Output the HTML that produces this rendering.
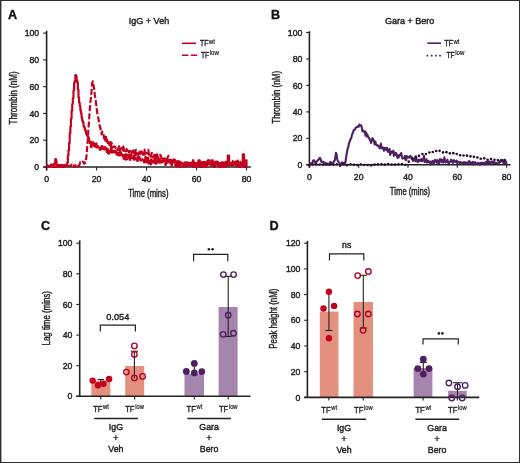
<!DOCTYPE html>
<html><head><meta charset="utf-8"><style>
html,body{margin:0;padding:0;background:#fff;}
body{width:520px;height:463px;overflow:hidden;position:relative;}
svg{position:absolute;left:0;top:0;display:block;will-change:transform;}
svg text{font-family:"Liberation Sans", sans-serif;stroke:#1e1e1e;stroke-width:0.4px;}
</style></head><body>
<svg width="520" height="463" viewBox="0 0 520 463">
<rect x="0" y="0" width="520" height="463" fill="#fff"/>
<line x1="46.6" y1="30.8" x2="46.6" y2="170.4" stroke="#222" stroke-width="1.6"/>
<line x1="43.2" y1="167.0" x2="250.8" y2="167.0" stroke="#222" stroke-width="1.6"/>
<line x1="43.2" y1="167.00" x2="46.6" y2="167.00" stroke="#222" stroke-width="1.1"/>
<text x="39.20" y="170.10" font-size="8.7" text-anchor="end" fill="#1e1e1e" font-weight="normal" >0</text>
<line x1="43.2" y1="140.22" x2="46.6" y2="140.22" stroke="#222" stroke-width="1.1"/>
<text x="39.20" y="143.32" font-size="8.7" text-anchor="end" fill="#1e1e1e" font-weight="normal" >20</text>
<line x1="43.2" y1="113.44" x2="46.6" y2="113.44" stroke="#222" stroke-width="1.1"/>
<text x="39.20" y="116.54" font-size="8.7" text-anchor="end" fill="#1e1e1e" font-weight="normal" >40</text>
<line x1="43.2" y1="86.66" x2="46.6" y2="86.66" stroke="#222" stroke-width="1.1"/>
<text x="39.20" y="89.76" font-size="8.7" text-anchor="end" fill="#1e1e1e" font-weight="normal" >60</text>
<line x1="43.2" y1="59.88" x2="46.6" y2="59.88" stroke="#222" stroke-width="1.1"/>
<text x="39.20" y="62.98" font-size="8.7" text-anchor="end" fill="#1e1e1e" font-weight="normal" >80</text>
<line x1="43.2" y1="33.10" x2="46.6" y2="33.10" stroke="#222" stroke-width="1.1"/>
<text x="39.20" y="36.20" font-size="8.7" text-anchor="end" fill="#1e1e1e" font-weight="normal" >100</text>
<line x1="46.60" y1="167.0" x2="46.60" y2="170.4" stroke="#222" stroke-width="1.1"/>
<text x="46.60" y="181.60" font-size="8.7" text-anchor="middle" fill="#1e1e1e" font-weight="normal" >0</text>
<line x1="96.58" y1="167.0" x2="96.58" y2="170.4" stroke="#222" stroke-width="1.1"/>
<text x="96.58" y="181.60" font-size="8.7" text-anchor="middle" fill="#1e1e1e" font-weight="normal" >20</text>
<line x1="146.56" y1="167.0" x2="146.56" y2="170.4" stroke="#222" stroke-width="1.1"/>
<text x="146.56" y="181.60" font-size="8.7" text-anchor="middle" fill="#1e1e1e" font-weight="normal" >40</text>
<line x1="196.54" y1="167.0" x2="196.54" y2="170.4" stroke="#222" stroke-width="1.1"/>
<text x="196.54" y="181.60" font-size="8.7" text-anchor="middle" fill="#1e1e1e" font-weight="normal" >60</text>
<line x1="246.52" y1="167.0" x2="246.52" y2="170.4" stroke="#222" stroke-width="1.1"/>
<text x="246.52" y="181.60" font-size="8.7" text-anchor="middle" fill="#1e1e1e" font-weight="normal" >80</text>
<text transform="translate(148.3,196.9) scale(0.77,1)" font-size="10" text-anchor="middle" fill="#1e1e1e">Time (mins)</text>
<text transform="translate(16.5,97.9) rotate(-90) scale(0.81,1)" font-size="10" text-anchor="middle" fill="#1e1e1e">Thrombin (nM)</text>
<text x="149.00" y="23.80" font-size="9.0" text-anchor="middle" fill="#1e1e1e" font-weight="normal" >IgG + Veh</text>
<text x="8" y="18.7" font-size="12.6" font-weight="bold" fill="#111">A</text>
<line x1="182" y1="43.3" x2="196" y2="43.3" stroke="#c4001f" stroke-width="1.6"/>
<line x1="182" y1="55.2" x2="197.2" y2="55.2" stroke="#c4001f" stroke-width="1.6" stroke-dasharray="6.4,2.4"/>
<text transform="translate(200.0,46.1) scale(0.77,1)" font-size="8.9" fill="#1e1e1e">TF<tspan font-size="7.9" dx="0.6" dy="-2.6" style="stroke-width:0.25px">wt</tspan></text>
<text transform="translate(200.9,57.6) scale(0.77,1)" font-size="8.9" fill="#1e1e1e">TF<tspan font-size="7.9" dx="0.6" dy="-2.6" style="stroke-width:0.25px">low</tspan></text>
<path d="M46.60,165.93 L47.22,165.93 L47.22,165.66 L47.85,165.66 L47.85,166.08 L48.47,166.08 L48.47,166.54 L49.10,166.54 L49.10,166.16 L49.72,166.16 L49.72,166.56 L50.35,166.56 L50.35,165.68 L50.97,165.68 L50.97,164.62 L51.60,164.62 L51.60,166.06 L52.22,166.06 L52.22,165.82 L52.85,165.82 L52.85,164.60 L53.47,164.60 L53.47,164.37 L54.10,164.37 L54.10,164.24 L54.72,164.24 L54.72,162.39 L55.35,162.39 L55.35,158.99 L55.97,158.99 L55.97,161.42 L56.60,161.42 L56.60,166.07 L57.22,166.07 L57.22,165.41 L57.85,165.41 L57.85,166.62 L58.47,166.62 L58.47,166.18 L59.09,166.18 L59.09,166.67 L59.72,166.67 L59.72,165.43 L60.34,165.43 L60.34,166.31 L60.97,166.31 L60.97,165.13 L61.59,165.13 L61.59,165.27 L62.22,165.27 L62.22,165.49 L62.84,165.49 L62.84,167.00 L63.47,167.00 L63.47,165.66 L64.09,165.66 L64.09,165.21 L64.72,165.21 L64.72,165.02 L65.34,165.02 L65.34,166.29 L65.97,166.29 L65.97,165.39 L66.59,165.39 L66.59,164.44 L67.22,164.44 L67.22,162.63 L67.84,162.63 L67.84,155.44 L68.47,155.44 L68.47,150.24 L69.09,150.24 L69.09,142.92 L69.72,142.92 L69.72,133.26 L70.34,133.26 L70.34,126.53 L70.97,126.53 L70.97,118.50 L71.59,118.50 L71.59,110.67 L72.21,110.67 L72.21,104.02 L72.84,104.02 L72.84,98.36 L73.46,98.36 L73.46,90.62 L74.09,90.62 L74.09,82.89 L74.71,82.89 L74.71,81.10 L75.34,81.10 L75.34,75.03 L75.96,75.03 L75.96,76.12 L76.59,76.12 L76.59,80.30 L77.21,80.30 L77.21,82.29 L77.84,82.29 L77.84,89.56 L78.46,89.56 L78.46,97.41 L79.09,97.41 L79.09,102.67 L79.71,102.67 L79.71,106.00 L80.34,106.00 L80.34,110.35 L80.96,110.35 L80.96,113.38 L81.59,113.38 L81.59,117.72 L82.21,117.72 L82.21,120.86 L82.84,120.86 L82.84,122.44 L83.46,122.44 L83.46,125.95 L84.09,125.95 L84.09,127.06 L84.71,127.06 L84.71,129.41 L85.33,129.41 L85.33,130.74 L85.96,130.74 L85.96,133.47 L86.58,133.47 L86.58,134.66 L87.21,134.66 L87.21,136.03 L87.83,136.03 L87.83,136.82 L88.46,136.82 L88.46,137.96 L89.08,137.96 L89.08,141.28 L89.71,141.28 L89.71,143.05 L90.33,143.05 L90.33,141.69 L90.96,141.69 L90.96,147.08 L91.58,147.08 L91.58,144.66 L92.21,144.66 L92.21,144.42 L92.83,144.42 L92.83,142.33 L93.46,142.33 L93.46,143.84 L94.08,143.84 L94.08,146.19 L94.71,146.19 L94.71,146.52 L95.33,146.52 L95.33,146.55 L95.96,146.55 L95.96,143.47 L96.58,143.47 L96.58,147.38 L97.20,147.38 L97.20,147.40 L97.83,147.40 L97.83,146.42 L98.45,146.42 L98.45,147.56 L99.08,147.56 L99.08,147.95 L99.70,147.95 L99.70,149.83 L100.33,149.83 L100.33,147.92 L100.95,147.92 L100.95,148.89 L101.58,148.89 L101.58,146.03 L102.20,146.03 L102.20,147.16 L102.83,147.16 L102.83,148.58 L103.45,148.58 L103.45,147.44 L104.08,147.44 L104.08,149.49 L104.70,149.49 L104.70,147.04 L105.33,147.04 L105.33,149.18 L105.95,149.18 L105.95,148.24 L106.58,148.24 L106.58,151.91 L107.20,151.91 L107.20,149.00 L107.83,149.00 L107.83,152.98 L108.45,152.98 L108.45,153.79 L109.08,153.79 L109.08,150.70 L109.70,150.70 L109.70,152.03 L110.32,152.03 L110.32,150.26 L110.95,150.26 L110.95,146.57 L111.57,146.57 L111.57,152.56 L112.20,152.56 L112.20,152.39 L112.82,152.39 L112.82,151.05 L113.45,151.05 L113.45,150.73 L114.07,150.73 L114.07,152.20 L114.70,152.20 L114.70,152.47 L115.32,152.47 L115.32,150.99 L115.95,150.99 L115.95,151.55 L116.57,151.55 L116.57,154.68 L117.20,154.68 L117.20,153.11 L117.82,153.11 L117.82,153.11 L118.45,153.11 L118.45,155.37 L119.07,155.37 L119.07,153.12 L119.70,153.12 L119.70,155.42 L120.32,155.42 L120.32,152.18 L120.95,152.18 L120.95,153.84 L121.57,153.84 L121.57,154.23 L122.19,154.23 L122.19,155.71 L122.82,155.71 L122.82,155.02 L123.44,155.02 L123.44,158.74 L124.07,158.74 L124.07,157.31 L124.69,157.31 L124.69,154.71 L125.32,154.71 L125.32,159.58 L125.94,159.58 L125.94,154.20 L126.57,154.20 L126.57,159.26 L127.19,159.26 L127.19,154.76 L127.82,154.76 L127.82,157.96 L128.44,157.96 L128.44,155.12 L129.07,155.12 L129.07,156.53 L129.69,156.53 L129.69,159.85 L130.32,159.85 L130.32,154.80 L130.94,154.80 L130.94,154.56 L131.57,154.56 L131.57,157.51 L132.19,157.51 L132.19,158.02 L132.82,158.02 L132.82,157.93 L133.44,157.93 L133.44,159.57 L134.06,159.57 L134.06,155.81 L134.69,155.81 L134.69,159.01 L135.31,159.01 L135.31,158.21 L135.94,158.21 L135.94,159.72 L136.56,159.72 L136.56,159.53 L137.19,159.53 L137.19,160.87 L137.81,160.87 L137.81,156.24 L138.44,156.24 L138.44,159.01 L139.06,159.01 L139.06,157.03 L139.69,157.03 L139.69,158.94 L140.31,158.94 L140.31,160.38 L140.94,160.38 L140.94,159.82 L141.56,159.82 L141.56,160.37 L142.19,160.37 L142.19,159.43 L142.81,159.43 L142.81,160.27 L143.44,160.27 L143.44,160.25 L144.06,160.25 L144.06,162.39 L144.69,162.39 L144.69,161.44 L145.31,161.44 L145.31,156.95 L145.94,156.95 L145.94,161.43 L146.56,161.43 L146.56,162.27 L147.18,162.27 L147.18,159.78 L147.81,159.78 L147.81,157.90 L148.43,157.90 L148.43,163.38 L149.06,163.38 L149.06,161.17 L149.68,161.17 L149.68,162.09 L150.31,162.09 L150.31,164.30 L150.93,164.30 L150.93,159.67 L151.56,159.67 L151.56,161.14 L152.18,161.14 L152.18,161.02 L152.81,161.02 L152.81,162.61 L153.43,162.61 L153.43,160.40 L154.06,160.40 L154.06,162.32 L154.68,162.32 L154.68,161.63 L155.31,161.63 L155.31,163.49 L155.93,163.49 L155.93,163.75 L156.56,163.75 L156.56,160.31 L157.18,160.31 L157.18,160.31 L157.81,160.31 L157.81,161.08 L158.43,161.08 L158.43,161.74 L159.06,161.74 L159.06,162.55 L159.68,162.55 L159.68,162.73 L160.30,162.73 L160.30,160.65 L160.93,160.65 L160.93,162.45 L161.55,162.45 L161.55,162.22 L162.18,162.22 L162.18,161.95 L162.80,161.95 L162.80,159.84 L163.43,159.84 L163.43,160.82 L164.05,160.82 L164.05,160.97 L164.68,160.97 L164.68,160.97 L165.30,160.97 L165.30,164.84 L165.93,164.84 L165.93,160.52 L166.55,160.52 L166.55,160.54 L167.18,160.54 L167.18,162.67 L167.80,162.67 L167.80,161.44 L168.43,161.44 L168.43,161.05 L169.05,161.05 L169.05,161.01 L169.68,161.01 L169.68,160.89 L170.30,160.89 L170.30,163.52 L170.93,163.52 L170.93,159.88 L171.55,159.88 L171.55,165.11 L172.17,165.11 L172.17,161.21 L172.80,161.21 L172.80,161.95 L173.42,161.95 L173.42,161.29 L174.05,161.29 L174.05,159.46 L174.67,159.46 L174.67,160.24 L175.30,160.24 L175.30,165.20 L175.92,165.20 L175.92,166.26 L176.55,166.26 L176.55,161.60 L177.17,161.60 L177.17,165.07 L177.80,165.07 L177.80,161.64 L178.42,161.64 L178.42,161.64 L179.05,161.64 L179.05,166.36 L179.67,166.36 L179.67,167.00 L180.30,167.00 L180.30,162.87 L180.92,162.87 L180.92,163.31 L181.55,163.31 L181.55,163.89 L182.17,163.89 L182.17,163.39 L182.80,163.39 L182.80,165.12 L183.42,165.12 L183.42,166.38 L184.04,166.38 L184.04,163.89 L184.67,163.89 L184.67,165.44 L185.29,165.44 L185.29,166.73 L185.92,166.73 L185.92,162.31 L186.54,162.31 L186.54,162.31 L187.17,162.31 L187.17,163.00 L187.79,163.00 L187.79,165.66 L188.42,165.66 L188.42,165.07 L189.04,165.07 L189.04,162.72 L189.67,162.72 L189.67,162.72 L190.29,162.72 L190.29,163.58 L190.92,163.58 L190.92,165.46 L191.54,165.46 L191.54,163.36 L192.17,163.36 L192.17,163.42 L192.79,163.42 L192.79,160.30 L193.42,160.30 L193.42,166.75 L194.04,166.75 L194.04,162.51 L194.67,162.51 L194.67,164.38 L195.29,164.38 L195.29,164.27 L195.92,164.27 L195.92,167.00 L196.54,167.00 L196.54,165.18 L197.16,165.18 L197.16,162.94 L197.79,162.94 L197.79,164.49 L198.41,164.49 L198.41,160.31 L199.04,160.31 L199.04,160.31 L199.66,160.31 L199.66,162.20 L200.29,162.20 L200.29,164.41 L200.91,164.41 L200.91,167.00 L201.54,167.00 L201.54,165.69 L202.16,165.69 L202.16,167.00 L202.79,167.00 L202.79,167.00 L203.41,167.00 L203.41,165.41 L204.04,165.41 L204.04,161.92 L204.66,161.92 L204.66,164.34 L205.29,164.34 L205.29,166.64 L205.91,166.64 L205.91,166.21 L206.54,166.21 L206.54,162.34 L207.16,162.34 L207.16,164.17 L207.79,164.17 L207.79,160.31 L208.41,160.31 L208.41,160.31 L209.03,160.31 L209.03,164.42 L209.66,164.42 L209.66,162.99 L210.28,162.99 L210.28,163.47 L210.91,163.47 L210.91,164.11 L211.53,164.11 L211.53,160.31 L212.16,160.31 L212.16,160.31 L212.78,160.31 L212.78,165.82 L213.41,165.82 L213.41,162.50 L214.03,162.50 L214.03,166.94 L214.66,166.94 L214.66,164.82 L215.28,164.82 L215.28,164.59 L215.91,164.59 L215.91,161.64 L216.53,161.64 L216.53,161.64 L217.16,161.64 L217.16,161.86 L217.78,161.86 L217.78,165.48 L218.41,165.48 L218.41,163.17 L219.03,163.17 L219.03,163.91 L219.66,163.91 L219.66,167.00 L220.28,167.00 L220.28,164.17 L220.91,164.17 L220.91,164.76 L221.53,164.76 L221.53,162.31 L222.15,162.31 L222.15,162.31 L222.78,162.31 L222.78,165.18 L223.40,165.18 L223.40,165.02 L224.03,165.02 L224.03,162.46 L224.65,162.46 L224.65,164.07 L225.28,164.07 L225.28,164.72 L225.90,164.72 L225.90,161.85 L226.53,161.85 L226.53,165.76 L227.15,165.76 L227.15,165.46 L227.78,165.46 L227.78,155.48 L228.40,155.48 L228.40,155.48 L229.03,155.48 L229.03,162.95 L229.65,162.95 L229.65,163.05 L230.28,163.05 L230.28,163.52 L230.90,163.52 L230.90,164.58 L231.53,164.58 L231.53,164.39 L232.15,164.39 L232.15,165.27 L232.78,165.27 L232.78,165.19 L233.40,165.19 L233.40,164.71 L234.03,164.71 L234.03,161.99 L234.65,161.99 L234.65,163.79 L235.27,163.79 L235.27,161.64 L235.90,161.64 L235.90,161.64 L236.52,161.64 L236.52,166.05 L237.15,166.05 L237.15,161.86 L237.77,161.86 L237.77,163.92 L238.40,163.92 L238.40,164.76 L239.02,164.76 L239.02,165.54 L239.65,165.54 L239.65,166.98 L240.27,166.98 L240.27,165.03 L240.90,165.03 L240.90,163.28 L241.52,163.28 L241.52,165.66 L242.15,165.66 L242.15,165.36 L242.77,165.36 L242.77,154.41 L243.40,154.41 L243.40,154.41 L244.02,154.41 L244.02,167.00 L244.65,167.00 L244.65,165.41 L245.27,165.41 L245.27,160.31 L245.90,160.31 L245.90,160.31 L246.52,160.31 L246.52,166.44 L247.14,166.44" fill="none" stroke="#c4001f" stroke-width="2.15" stroke-linejoin="round"/>
<path d="M46.60,165.94 L47.22,165.30 L47.85,166.52 L48.47,166.70 L49.10,166.16 L49.72,166.28 L50.35,166.94 L50.97,165.95 L51.60,164.90 L52.22,166.41 L52.85,166.37 L53.47,166.92 L54.10,166.00 L54.72,167.00 L55.35,166.93 L55.97,165.32 L56.60,166.78 L57.22,165.44 L57.85,165.13 L58.47,165.97 L59.09,165.76 L59.72,164.81 L60.34,166.24 L60.97,166.50 L61.59,167.00 L62.22,166.05 L62.84,165.08 L63.47,165.42 L64.09,166.68 L64.72,166.61 L65.34,166.37 L65.97,165.82 L66.59,166.15 L67.22,165.86 L67.84,165.79 L68.47,166.18 L69.09,166.00 L69.72,165.82 L70.34,166.01 L70.97,165.60 L71.59,164.68 L72.21,165.49 L72.84,165.80 L73.46,166.92 L74.09,165.49 L74.71,167.00 L75.34,166.60 L75.96,165.04 L76.59,165.10 L77.21,165.63 L77.84,166.63 L78.46,165.69 L79.09,165.85 L79.71,164.12 L80.34,162.18 L80.96,162.70 L81.59,162.52 L82.21,161.93 L82.84,161.59 L83.46,162.38 L84.09,163.75 L84.71,162.49 L85.33,162.92 L85.96,160.98 L86.58,154.68 L87.21,146.86 L87.83,139.35 L88.46,129.01 L89.08,119.78 L89.71,110.28 L90.33,103.13 L90.96,97.29 L91.58,90.90 L92.21,82.92 L92.83,81.25 L93.46,84.87 L94.08,88.23 L94.71,94.15 L95.33,98.38 L95.96,102.61 L96.58,107.33 L97.20,112.72 L97.83,115.25 L98.45,118.92 L99.08,123.00 L99.70,125.94 L100.33,127.90 L100.95,131.25 L101.58,134.35 L102.20,131.67 L102.83,134.19 L103.45,133.91 L104.08,138.26 L104.70,139.21 L105.33,141.89 L105.95,135.75 L106.58,141.31 L107.20,138.48 L107.83,143.15 L108.45,142.10 L109.08,146.02 L109.70,144.08 L110.32,142.00 L110.95,146.66 L111.57,142.78 L112.20,144.59 L112.82,147.43 L113.45,146.66 L114.07,146.82 L114.70,146.30 L115.32,147.46 L115.95,148.25 L116.57,147.52 L117.20,149.12 L117.82,149.86 L118.45,147.78 L119.07,146.28 L119.70,151.05 L120.32,148.42 L120.95,149.90 L121.57,150.76 L122.19,147.47 L122.82,150.19 L123.44,146.56 L124.07,150.98 L124.69,148.94 L125.32,150.24 L125.94,151.37 L126.57,149.00 L127.19,150.54 L127.82,149.27 L128.44,150.64 L129.07,152.73 L129.69,151.03 L130.32,150.87 L130.94,149.27 L131.57,152.85 L132.19,151.32 L132.82,154.57 L133.44,150.21 L134.06,153.55 L134.69,155.01 L135.31,151.82 L135.94,149.73 L136.56,154.76 L137.19,154.03 L137.81,153.48 L138.44,154.30 L139.06,151.56 L139.69,153.88 L140.31,153.82 L140.94,151.47 L141.56,154.08 L142.19,151.95 L142.81,154.69 L143.44,155.24 L144.06,156.50 L144.69,149.67 L145.31,153.86 L145.94,152.90 L146.56,153.52 L147.18,153.26 L147.81,153.56 L148.43,150.18 L149.06,155.80 L149.68,156.87 L150.31,155.99 L150.93,156.80 L151.56,153.10 L152.18,153.17 L152.81,156.71 L153.43,157.72 L154.06,155.99 L154.68,152.92 L155.31,161.02 L155.93,154.95 L156.56,158.16 L157.18,154.39 L157.81,158.57 L158.43,157.29 L159.06,159.78 L159.68,158.96 L160.30,154.69 L160.93,155.92 L161.55,158.38 L162.18,159.43 L162.80,161.51 L163.43,158.87 L164.05,158.35 L164.68,158.62 L165.30,158.81 L165.93,160.90 L166.55,159.09 L167.18,159.21 L167.80,156.88 L168.43,155.97 L169.05,159.89 L169.68,161.24 L170.30,160.09 L170.93,161.28 L171.55,161.70 L172.17,160.58 L172.80,162.60 L173.42,159.67 L174.05,161.17 L174.67,160.60 L175.30,161.51 L175.92,162.62 L176.55,163.13 L177.17,161.90 L177.80,162.58 L178.42,161.21 L179.05,161.75 L179.67,164.39 L180.30,161.81 L180.92,164.54 L181.55,163.28 L182.17,162.77 L182.80,166.20 L183.42,162.24 L184.04,162.22 L184.67,162.90 L185.29,163.49 L185.92,163.49 L186.54,164.72 L187.17,163.49 L187.79,164.11 L188.42,163.00 L189.04,165.53 L189.67,162.92 L190.29,163.19 L190.92,163.82 L191.54,164.48 L192.17,162.62 L192.79,166.79 L193.42,162.81 L194.04,163.23 L194.67,163.16 L195.29,162.98 L195.92,164.93 L196.54,164.20 L197.16,162.53 L197.79,162.92 L198.41,163.35 L199.04,166.58 L199.66,162.74 L200.29,161.57 L200.91,161.87 L201.54,163.34 L202.16,166.70 L202.79,162.02 L203.41,164.07 L204.04,167.00 L204.66,163.11 L205.29,166.62 L205.91,166.26 L206.54,165.03 L207.16,161.46 L207.79,164.55 L208.41,163.35 L209.03,160.59 L209.66,160.88 L210.28,164.07 L210.91,164.34 L211.53,166.26 L212.16,165.21 L212.78,163.11 L213.41,163.18 L214.03,163.72 L214.66,162.07 L215.28,165.39 L215.91,164.05 L216.53,162.59 L217.16,162.87 L217.78,161.96 L218.41,163.24 L219.03,164.57 L219.66,163.32 L220.28,165.88 L220.91,167.00 L221.53,162.93 L222.15,164.13 L222.78,163.45 L223.40,167.00 L224.03,164.73 L224.65,165.18 L225.28,165.68 L225.90,167.00 L226.53,164.71 L227.15,162.40 L227.78,163.38 L228.40,165.23 L229.03,164.14 L229.65,162.70 L230.28,167.00 L230.90,164.37 L231.53,163.12 L232.15,162.87 L232.78,160.97 L233.40,162.03 L234.03,163.58 L234.65,163.61 L235.27,162.71 L235.90,165.20 L236.52,164.28 L237.15,162.51 L237.77,160.55 L238.40,164.52 L239.02,164.32 L239.65,163.87 L240.27,161.73 L240.90,164.31 L241.52,161.51 L242.15,166.08 L242.77,164.63 L243.40,164.66 L244.02,162.82 L244.65,162.34 L245.27,167.00 L245.90,166.03 L246.52,163.69" fill="none" stroke="#c4001f" stroke-width="2.15" stroke-dasharray="6,2.2" stroke-linejoin="round"/>
<line x1="309.4" y1="31.2" x2="309.4" y2="167.8" stroke="#222" stroke-width="1.6"/>
<line x1="306.2" y1="164.8" x2="510.5" y2="164.8" stroke="#222" stroke-width="1.6"/>
<line x1="306.2" y1="164.80" x2="309.4" y2="164.80" stroke="#222" stroke-width="1.1"/>
<text x="302.30" y="167.90" font-size="8.7" text-anchor="end" fill="#1e1e1e" font-weight="normal" >0</text>
<line x1="306.2" y1="138.34" x2="309.4" y2="138.34" stroke="#222" stroke-width="1.1"/>
<text x="302.30" y="141.44" font-size="8.7" text-anchor="end" fill="#1e1e1e" font-weight="normal" >20</text>
<line x1="306.2" y1="111.88" x2="309.4" y2="111.88" stroke="#222" stroke-width="1.1"/>
<text x="302.30" y="114.98" font-size="8.7" text-anchor="end" fill="#1e1e1e" font-weight="normal" >40</text>
<line x1="306.2" y1="85.42" x2="309.4" y2="85.42" stroke="#222" stroke-width="1.1"/>
<text x="302.30" y="88.52" font-size="8.7" text-anchor="end" fill="#1e1e1e" font-weight="normal" >60</text>
<line x1="306.2" y1="58.96" x2="309.4" y2="58.96" stroke="#222" stroke-width="1.1"/>
<text x="302.30" y="62.06" font-size="8.7" text-anchor="end" fill="#1e1e1e" font-weight="normal" >80</text>
<line x1="306.2" y1="32.50" x2="309.4" y2="32.50" stroke="#222" stroke-width="1.1"/>
<text x="302.30" y="35.60" font-size="8.7" text-anchor="end" fill="#1e1e1e" font-weight="normal" >100</text>
<line x1="309.40" y1="164.8" x2="309.40" y2="167.8" stroke="#222" stroke-width="1.1"/>
<text x="309.40" y="180.00" font-size="8.7" text-anchor="middle" fill="#1e1e1e" font-weight="normal" >0</text>
<line x1="358.70" y1="164.8" x2="358.70" y2="167.8" stroke="#222" stroke-width="1.1"/>
<text x="358.70" y="180.00" font-size="8.7" text-anchor="middle" fill="#1e1e1e" font-weight="normal" >20</text>
<line x1="408.00" y1="164.8" x2="408.00" y2="167.8" stroke="#222" stroke-width="1.1"/>
<text x="408.00" y="180.00" font-size="8.7" text-anchor="middle" fill="#1e1e1e" font-weight="normal" >40</text>
<line x1="457.30" y1="164.8" x2="457.30" y2="167.8" stroke="#222" stroke-width="1.1"/>
<text x="457.30" y="180.00" font-size="8.7" text-anchor="middle" fill="#1e1e1e" font-weight="normal" >60</text>
<line x1="506.60" y1="164.8" x2="506.60" y2="167.8" stroke="#222" stroke-width="1.1"/>
<text x="506.60" y="180.00" font-size="8.7" text-anchor="middle" fill="#1e1e1e" font-weight="normal" >80</text>
<text transform="translate(410,194.8) scale(0.77,1)" font-size="10" text-anchor="middle" fill="#1e1e1e">Time (mins)</text>
<text transform="translate(279.8,97.3) rotate(-90) scale(0.81,1)" font-size="10" text-anchor="middle" fill="#1e1e1e">Thrombin (nM)</text>
<text x="409.70" y="24.30" font-size="9.0" text-anchor="middle" fill="#1e1e1e" font-weight="normal" >Gara + Bero</text>
<text x="271" y="19.3" font-size="12.6" font-weight="bold" fill="#111">B</text>
<line x1="427.3" y1="43.2" x2="441" y2="43.2" stroke="#4f1f63" stroke-width="1.6"/>
<line x1="426.6" y1="55.6" x2="441" y2="55.6" stroke="#4f1f63" stroke-width="1.6" stroke-dasharray="1.7,2.5"/>
<text transform="translate(444.6,46.1) scale(0.77,1)" font-size="8.9" fill="#1e1e1e">TF<tspan font-size="7.9" dx="0.6" dy="-2.6" style="stroke-width:0.25px">wt</tspan></text>
<text transform="translate(446.4,57.9) scale(0.77,1)" font-size="8.9" fill="#1e1e1e">TF<tspan font-size="7.9" dx="0.6" dy="-2.6" style="stroke-width:0.25px">low</tspan></text>
<path d="M309.40,164.49 L310.02,164.78 L310.63,163.26 L311.25,163.38 L311.86,163.22 L312.48,162.50 L313.10,160.48 L313.71,160.34 L314.33,160.50 L314.95,162.43 L315.56,163.27 L316.18,162.05 L316.79,161.86 L317.41,160.47 L318.03,160.03 L318.64,159.67 L319.26,158.15 L319.88,157.87 L320.49,158.69 L321.11,161.00 L321.72,162.39 L322.34,161.84 L322.96,161.63 L323.57,162.09 L324.19,163.44 L324.81,163.39 L325.42,162.73 L326.04,163.64 L326.65,164.13 L327.27,163.58 L327.89,163.44 L328.50,164.15 L329.12,164.61 L329.74,163.71 L330.35,161.80 L330.97,162.89 L331.58,162.89 L332.20,163.03 L332.82,163.15 L333.43,162.55 L334.05,161.01 L334.67,160.64 L335.28,157.62 L335.90,152.76 L336.51,153.91 L337.13,158.69 L337.75,160.78 L338.36,161.68 L338.98,162.71 L339.60,163.11 L340.21,164.37 L340.83,164.11 L341.44,163.79 L342.06,162.29 L342.68,163.16 L343.29,163.76 L343.91,163.36 L344.53,162.52 L345.14,163.60 L345.76,160.03 L346.38,155.56 L346.99,152.30 L347.61,148.57 L348.22,147.21 L348.84,143.94 L349.46,142.07 L350.07,140.69 L350.69,138.64 L351.30,138.09 L351.92,135.03 L352.54,133.81 L353.15,131.83 L353.77,130.04 L354.39,129.76 L355.00,129.64 L355.62,127.73 L356.23,127.49 L356.85,126.89 L357.47,126.65 L358.08,126.13 L358.70,126.79 L359.32,124.54 L359.93,125.35 L360.55,125.37 L361.16,125.39 L361.78,127.22 L362.40,131.07 L363.01,130.39 L363.63,131.74 L364.25,131.40 L364.86,131.26 L365.48,135.53 L366.09,132.48 L366.71,136.52 L367.33,134.50 L367.94,136.15 L368.56,137.46 L369.18,138.03 L369.79,139.78 L370.41,140.78 L371.02,143.07 L371.64,140.86 L372.26,138.28 L372.87,138.58 L373.49,140.19 L374.11,141.73 L374.72,144.54 L375.34,141.48 L375.95,144.35 L376.57,144.76 L377.19,145.52 L377.80,145.27 L378.42,146.53 L379.04,146.34 L379.65,148.39 L380.27,147.60 L380.88,143.60 L381.50,147.88 L382.12,148.50 L382.73,147.50 L383.35,147.49 L383.97,150.77 L384.58,149.55 L385.20,147.96 L385.81,149.31 L386.43,149.83 L387.05,147.73 L387.66,151.70 L388.28,150.72 L388.90,151.99 L389.51,148.94 L390.13,154.90 L390.75,153.06 L391.36,153.10 L391.98,151.40 L392.59,151.77 L393.21,150.74 L393.83,155.88 L394.44,152.23 L395.06,154.15 L395.67,154.97 L396.29,153.17 L396.91,155.78 L397.52,157.89 L398.14,155.27 L398.76,157.33 L399.37,156.12 L399.99,154.63 L400.60,154.93 L401.22,153.02 L401.84,156.17 L402.45,158.57 L403.07,157.48 L403.69,157.95 L404.30,158.64 L404.92,156.10 L405.53,158.03 L406.15,160.36 L406.77,156.06 L407.38,157.52 L408.00,156.87 L408.62,157.41 L409.23,156.66 L409.85,157.77 L410.46,155.91 L411.08,157.37 L411.70,157.55 L412.31,157.65 L412.93,160.86 L413.55,158.85 L414.16,159.13 L414.78,158.48 L415.39,161.19 L416.01,156.37 L416.63,159.02 L417.24,161.30 L417.86,162.20 L418.48,159.93 L419.09,159.70 L419.71,160.82 L420.32,159.56 L420.94,160.86 L421.56,158.97 L422.17,161.17 L422.79,160.12 L423.41,158.52 L424.02,155.97 L424.64,161.97 L425.25,161.16 L425.87,161.87 L426.49,159.26 L427.10,162.54 L427.72,161.53 L428.34,160.86 L428.95,162.47 L429.57,162.46 L430.18,161.69 L430.80,164.41 L431.42,163.35 L432.03,161.67 L432.65,160.77 L433.27,161.35 L433.88,164.00 L434.50,161.86 L435.11,159.80 L435.73,160.23 L436.35,161.30 L436.96,162.67 L437.58,160.18 L438.20,162.21 L438.81,163.21 L439.43,162.63 L440.04,158.94 L440.66,160.99 L441.28,159.47 L441.89,162.20 L442.51,159.89 L443.13,162.46 L443.74,161.75 L444.36,157.41 L444.97,160.28 L445.59,162.40 L446.21,161.74 L446.82,161.08 L447.44,159.65 L448.06,162.49 L448.67,164.58 L449.29,162.19 L449.90,161.73 L450.52,161.62 L451.14,159.67 L451.75,161.37 L452.37,160.59 L452.99,163.00 L453.60,161.23 L454.22,160.13 L454.83,161.41 L455.45,161.93 L456.07,162.07 L456.68,160.60 L457.30,163.16 L457.92,162.45 L458.53,161.97 L459.15,161.75 L459.76,162.89 L460.38,162.25 L461.00,162.83 L461.61,162.51 L462.23,162.79 L462.85,163.77 L463.46,162.78 L464.08,161.99 L464.69,163.74 L465.31,163.12 L465.93,162.32 L466.54,163.98 L467.16,162.86 L467.78,164.06 L468.39,162.07 L469.01,161.03 L469.62,161.34 L470.24,163.44 L470.86,162.58 L471.47,163.18 L472.09,163.22 L472.71,161.91 L473.32,164.59 L473.94,162.42 L474.55,163.47 L475.17,162.15 L475.79,163.30 L476.40,164.13 L477.02,163.27 L477.64,162.87 L478.25,163.55 L478.87,163.16 L479.48,164.12 L480.10,164.80 L480.72,162.86 L481.33,163.07 L481.95,163.60 L482.57,163.57 L483.18,162.56 L483.80,163.83 L484.41,163.95 L485.03,163.36 L485.65,161.98 L486.26,164.25 L486.88,161.76 L487.50,163.34 L488.11,163.66 L488.73,161.36 L489.34,162.51 L489.96,163.66 L490.58,162.82 L491.19,161.66 L491.81,161.45 L492.43,162.98 L493.04,162.24 L493.66,161.99 L494.27,163.28 L494.89,162.39 L495.51,162.78 L496.12,163.28 L496.74,163.27 L497.36,162.64 L497.97,162.56 L498.59,162.99 L499.20,162.75 L499.82,161.21 L500.44,161.92 L501.05,161.19 L501.67,160.78 L502.29,161.51 L502.90,160.12 L503.52,163.15 L504.13,161.80 L504.75,163.01 L505.37,161.16 L505.98,161.47 L506.60,164.80" fill="none" stroke="#4f1f63" stroke-width="2.1" stroke-linejoin="round"/>
<circle cx="309.40" cy="165.25" r="1.3" fill="#2a1030"/>
<circle cx="312.83" cy="164.48" r="1.3" fill="#2a1030"/>
<circle cx="316.25" cy="164.42" r="1.3" fill="#2a1030"/>
<circle cx="319.68" cy="164.43" r="1.3" fill="#2a1030"/>
<circle cx="323.11" cy="164.80" r="1.3" fill="#2a1030"/>
<circle cx="326.53" cy="164.54" r="1.3" fill="#2a1030"/>
<circle cx="329.96" cy="164.44" r="1.3" fill="#2a1030"/>
<circle cx="333.38" cy="164.77" r="1.3" fill="#2a1030"/>
<circle cx="336.81" cy="164.25" r="1.3" fill="#2a1030"/>
<circle cx="340.24" cy="165.76" r="1.3" fill="#2a1030"/>
<circle cx="343.66" cy="164.41" r="1.3" fill="#2a1030"/>
<circle cx="347.09" cy="165.18" r="1.3" fill="#2a1030"/>
<circle cx="350.52" cy="164.24" r="1.3" fill="#2a1030"/>
<circle cx="353.94" cy="164.78" r="1.3" fill="#2a1030"/>
<circle cx="357.37" cy="165.08" r="1.3" fill="#2a1030"/>
<circle cx="360.80" cy="164.49" r="1.3" fill="#2a1030"/>
<circle cx="364.22" cy="165.07" r="1.3" fill="#2a1030"/>
<circle cx="367.65" cy="165.06" r="1.3" fill="#2a1030"/>
<circle cx="371.07" cy="165.36" r="1.3" fill="#2a1030"/>
<circle cx="374.50" cy="164.63" r="1.3" fill="#2a1030"/>
<circle cx="377.93" cy="164.38" r="1.3" fill="#2a1030"/>
<circle cx="381.35" cy="164.13" r="1.3" fill="#2a1030"/>
<circle cx="384.78" cy="164.66" r="1.3" fill="#2a1030"/>
<circle cx="388.21" cy="164.10" r="1.3" fill="#2a1030"/>
<circle cx="391.63" cy="164.57" r="1.3" fill="#2a1030"/>
<circle cx="395.06" cy="164.61" r="1.3" fill="#2a1030"/>
<circle cx="398.49" cy="164.29" r="1.3" fill="#2a1030"/>
<circle cx="401.91" cy="164.06" r="1.3" fill="#2a1030"/>
<circle cx="405.34" cy="164.69" r="1.3" fill="#2a1030"/>
<circle cx="408.76" cy="161.67" r="1.3" fill="#2a1030"/>
<circle cx="412.19" cy="158.70" r="1.3" fill="#2a1030"/>
<circle cx="415.62" cy="157.02" r="1.3" fill="#2a1030"/>
<circle cx="419.04" cy="155.92" r="1.3" fill="#2a1030"/>
<circle cx="422.47" cy="154.10" r="1.3" fill="#2a1030"/>
<circle cx="425.90" cy="154.03" r="1.3" fill="#2a1030"/>
<circle cx="429.32" cy="152.57" r="1.3" fill="#2a1030"/>
<circle cx="432.75" cy="151.94" r="1.3" fill="#2a1030"/>
<circle cx="436.17" cy="151.05" r="1.3" fill="#2a1030"/>
<circle cx="439.60" cy="150.83" r="1.3" fill="#2a1030"/>
<circle cx="443.03" cy="152.41" r="1.3" fill="#2a1030"/>
<circle cx="446.45" cy="152.14" r="1.3" fill="#2a1030"/>
<circle cx="449.88" cy="153.34" r="1.3" fill="#2a1030"/>
<circle cx="453.31" cy="153.13" r="1.3" fill="#2a1030"/>
<circle cx="456.73" cy="153.98" r="1.3" fill="#2a1030"/>
<circle cx="460.16" cy="155.21" r="1.3" fill="#2a1030"/>
<circle cx="463.59" cy="155.56" r="1.3" fill="#2a1030"/>
<circle cx="467.01" cy="155.67" r="1.3" fill="#2a1030"/>
<circle cx="470.44" cy="156.34" r="1.3" fill="#2a1030"/>
<circle cx="473.86" cy="156.84" r="1.3" fill="#2a1030"/>
<circle cx="477.29" cy="157.50" r="1.3" fill="#2a1030"/>
<circle cx="480.72" cy="158.69" r="1.3" fill="#2a1030"/>
<circle cx="484.14" cy="158.37" r="1.3" fill="#2a1030"/>
<circle cx="487.57" cy="159.71" r="1.3" fill="#2a1030"/>
<circle cx="491.00" cy="158.93" r="1.3" fill="#2a1030"/>
<circle cx="494.42" cy="159.85" r="1.3" fill="#2a1030"/>
<circle cx="497.85" cy="160.03" r="1.3" fill="#2a1030"/>
<circle cx="501.28" cy="159.99" r="1.3" fill="#2a1030"/>
<circle cx="504.70" cy="159.94" r="1.3" fill="#2a1030"/>
<text x="41" y="229.6" font-size="12.6" font-weight="bold" fill="#111">C</text>
<rect x="91.3" y="380.6" width="19.10000000000001" height="15.699999999999989" fill="#e3907f"/>
<rect x="125.2" y="366.0" width="18.999999999999986" height="30.30000000000001" fill="#e3907f"/>
<rect x="184.5" y="373.7" width="19.5" height="22.600000000000023" fill="#a585ad"/>
<rect x="218.6" y="307.0" width="19.0" height="89.30000000000001" fill="#a585ad"/>
<line x1="79.7" y1="240.3" x2="79.7" y2="396.3" stroke="#222" stroke-width="1.6"/>
<line x1="76.3" y1="396.3" x2="250.5" y2="396.3" stroke="#222" stroke-width="1.6"/>
<line x1="76.3" y1="396.30" x2="79.7" y2="396.30" stroke="#222" stroke-width="1.1"/>
<text x="72.40" y="399.40" font-size="8.7" text-anchor="end" fill="#1e1e1e" font-weight="normal" >0</text>
<line x1="76.3" y1="365.68" x2="79.7" y2="365.68" stroke="#222" stroke-width="1.1"/>
<text x="72.40" y="368.78" font-size="8.7" text-anchor="end" fill="#1e1e1e" font-weight="normal" >20</text>
<line x1="76.3" y1="335.06" x2="79.7" y2="335.06" stroke="#222" stroke-width="1.1"/>
<text x="72.40" y="338.16" font-size="8.7" text-anchor="end" fill="#1e1e1e" font-weight="normal" >40</text>
<line x1="76.3" y1="304.44" x2="79.7" y2="304.44" stroke="#222" stroke-width="1.1"/>
<text x="72.40" y="307.54" font-size="8.7" text-anchor="end" fill="#1e1e1e" font-weight="normal" >60</text>
<line x1="76.3" y1="273.82" x2="79.7" y2="273.82" stroke="#222" stroke-width="1.1"/>
<text x="72.40" y="276.92" font-size="8.7" text-anchor="end" fill="#1e1e1e" font-weight="normal" >80</text>
<line x1="76.3" y1="243.20" x2="79.7" y2="243.20" stroke="#222" stroke-width="1.1"/>
<text x="72.40" y="246.30" font-size="8.7" text-anchor="end" fill="#1e1e1e" font-weight="normal" >100</text>
<line x1="100.8" y1="396.3" x2="100.8" y2="399.5" stroke="#222" stroke-width="1.1"/>
<line x1="134.7" y1="396.3" x2="134.7" y2="399.5" stroke="#222" stroke-width="1.1"/>
<line x1="194.3" y1="396.3" x2="194.3" y2="399.5" stroke="#222" stroke-width="1.1"/>
<line x1="228.2" y1="396.3" x2="228.2" y2="399.5" stroke="#222" stroke-width="1.1"/>
<text transform="translate(49.7,318.3) rotate(-90) scale(0.79,1)" font-size="10" text-anchor="middle" fill="#1e1e1e">Lag time (mins)</text>
<line x1="100.8" y1="379.5" x2="100.8" y2="383" stroke="#222" stroke-width="1.1"/>
<line x1="97.55" y1="379.5" x2="104.05" y2="379.5" stroke="#222" stroke-width="1.1"/>
<line x1="134.4" y1="351.2" x2="134.4" y2="378.5" stroke="#222" stroke-width="1.1"/>
<line x1="130.9" y1="351.2" x2="137.9" y2="351.2" stroke="#222" stroke-width="1.1"/>
<line x1="194.3" y1="363.4" x2="194.3" y2="373" stroke="#222" stroke-width="1.1"/>
<line x1="228.2" y1="276.3" x2="228.2" y2="336.5" stroke="#222" stroke-width="1.1"/>
<line x1="224.7" y1="276.3" x2="231.7" y2="276.3" stroke="#222" stroke-width="1.1"/>
<line x1="224.7" y1="336.5" x2="231.7" y2="336.5" stroke="#222" stroke-width="1.1"/>
<circle cx="92.7" cy="380.6" r="3.2" fill="#c4001f"/>
<circle cx="98" cy="385.3" r="3.2" fill="#c4001f"/>
<circle cx="103.4" cy="383.8" r="3.2" fill="#c4001f"/>
<circle cx="109.1" cy="379" r="3.2" fill="#c4001f"/>
<circle cx="134.4" cy="345.90000000000003" r="2.75" fill="none" stroke="#b3001f" stroke-width="1.35"/>
<circle cx="134.4" cy="354.40000000000003" r="2.75" fill="none" stroke="#b3001f" stroke-width="1.35"/>
<circle cx="126.4" cy="372.1" r="2.75" fill="none" stroke="#b3001f" stroke-width="1.35"/>
<circle cx="134.4" cy="377.90000000000003" r="2.75" fill="none" stroke="#b3001f" stroke-width="1.35"/>
<circle cx="142.6" cy="376.40000000000003" r="2.75" fill="none" stroke="#b3001f" stroke-width="1.35"/>
<circle cx="194.3" cy="363.4" r="3.4" fill="#4f1f63"/>
<circle cx="186.3" cy="371.4" r="3.4" fill="#4f1f63"/>
<circle cx="194.3" cy="372.9" r="3.4" fill="#4f1f63"/>
<circle cx="201.8" cy="371.6" r="3.4" fill="#4f1f63"/>
<circle cx="223.4" cy="274.6" r="2.75" fill="none" stroke="#4f1f63" stroke-width="1.35"/>
<circle cx="233.6" cy="274.6" r="2.75" fill="none" stroke="#4f1f63" stroke-width="1.35"/>
<circle cx="228.2" cy="315.2" r="2.75" fill="none" stroke="#4f1f63" stroke-width="1.35"/>
<circle cx="223.1" cy="334.3" r="2.75" fill="none" stroke="#4f1f63" stroke-width="1.35"/>
<circle cx="233.5" cy="333.2" r="2.75" fill="none" stroke="#4f1f63" stroke-width="1.35"/>
<path d="M100.3,331.4 L100.3,325.2 L135.4,325.2 L135.4,331.4" fill="none" stroke="#222" stroke-width="1.2"/>
<text x="117.85" y="319.60" font-size="9.2" text-anchor="middle" fill="#1e1e1e" font-weight="normal" >0.054</text>
<path d="M193.6,261.3 L193.6,254.4 L227.8,254.4 L227.8,261.3" fill="none" stroke="#222" stroke-width="1.2"/>
<text x="210.70" y="253.40" font-size="7.6" text-anchor="middle" fill="#1e1e1e" font-weight="normal" ></text>
<circle cx="208.9" cy="249.3" r="1.3" fill="#222"/><circle cx="212.6" cy="249.3" r="1.3" fill="#222"/>
<text transform="translate(101.00,412.30) scale(0.79,1)" font-size="9.7" text-anchor="middle" fill="#1e1e1e">TF<tspan font-size="7.3" dx="0.8" dy="-3.5" style="stroke-width:0.25px">wt</tspan></text>
<text transform="translate(134.50,412.30) scale(0.79,1)" font-size="9.7" text-anchor="middle" fill="#1e1e1e">TF<tspan font-size="7.3" dx="0.8" dy="-3.5" style="stroke-width:0.25px">low</tspan></text>
<text transform="translate(194.40,412.30) scale(0.79,1)" font-size="9.7" text-anchor="middle" fill="#1e1e1e">TF<tspan font-size="7.3" dx="0.8" dy="-3.5" style="stroke-width:0.25px">wt</tspan></text>
<text transform="translate(228.20,412.30) scale(0.79,1)" font-size="9.7" text-anchor="middle" fill="#1e1e1e">TF<tspan font-size="7.3" dx="0.8" dy="-3.5" style="stroke-width:0.25px">low</tspan></text>
<line x1="94.2" y1="418.4" x2="137.9" y2="418.4" stroke="#222" stroke-width="1.5"/>
<line x1="187.3" y1="418.4" x2="230.9" y2="418.4" stroke="#222" stroke-width="1.5"/>
<text x="115.90" y="430.00" font-size="8.8" text-anchor="middle" fill="#1e1e1e" font-weight="normal" >IgG</text>
<text x="115.90" y="441.00" font-size="8.8" text-anchor="middle" fill="#1e1e1e" font-weight="normal" >+</text>
<text x="115.90" y="452.00" font-size="8.8" text-anchor="middle" fill="#1e1e1e" font-weight="normal" >Veh</text>
<text x="209.10" y="430.00" font-size="8.8" text-anchor="middle" fill="#1e1e1e" font-weight="normal" >Gara</text>
<text x="209.10" y="441.00" font-size="8.8" text-anchor="middle" fill="#1e1e1e" font-weight="normal" >+</text>
<text x="209.10" y="452.00" font-size="8.8" text-anchor="middle" fill="#1e1e1e" font-weight="normal" >Bero</text>
<text x="269.4" y="229.6" font-size="12.6" font-weight="bold" fill="#111">D</text>
<rect x="319.8" y="311.6" width="18.69999999999999" height="85.79999999999995" fill="#e3907f"/>
<rect x="353.5" y="302.0" width="19.5" height="95.39999999999998" fill="#e3907f"/>
<rect x="413.6" y="368.1" width="18.799999999999955" height="29.299999999999955" fill="#a585ad"/>
<rect x="448.1" y="390.8" width="18.599999999999966" height="6.599999999999966" fill="#a585ad"/>
<line x1="307.4" y1="240.8" x2="307.4" y2="397.4" stroke="#222" stroke-width="1.6"/>
<line x1="304.2" y1="397.4" x2="479.3" y2="397.4" stroke="#222" stroke-width="1.6"/>
<line x1="304.2" y1="397.40" x2="307.4" y2="397.40" stroke="#222" stroke-width="1.1"/>
<text x="300.40" y="400.50" font-size="8.7" text-anchor="end" fill="#1e1e1e" font-weight="normal" >0</text>
<line x1="304.2" y1="371.70" x2="307.4" y2="371.70" stroke="#222" stroke-width="1.1"/>
<text x="300.40" y="374.80" font-size="8.7" text-anchor="end" fill="#1e1e1e" font-weight="normal" >20</text>
<line x1="304.2" y1="346.00" x2="307.4" y2="346.00" stroke="#222" stroke-width="1.1"/>
<text x="300.40" y="349.10" font-size="8.7" text-anchor="end" fill="#1e1e1e" font-weight="normal" >40</text>
<line x1="304.2" y1="320.30" x2="307.4" y2="320.30" stroke="#222" stroke-width="1.1"/>
<text x="300.40" y="323.40" font-size="8.7" text-anchor="end" fill="#1e1e1e" font-weight="normal" >60</text>
<line x1="304.2" y1="294.60" x2="307.4" y2="294.60" stroke="#222" stroke-width="1.1"/>
<text x="300.40" y="297.70" font-size="8.7" text-anchor="end" fill="#1e1e1e" font-weight="normal" >80</text>
<line x1="304.2" y1="268.90" x2="307.4" y2="268.90" stroke="#222" stroke-width="1.1"/>
<text x="300.40" y="272.00" font-size="8.7" text-anchor="end" fill="#1e1e1e" font-weight="normal" >100</text>
<line x1="304.2" y1="243.20" x2="307.4" y2="243.20" stroke="#222" stroke-width="1.1"/>
<text x="300.40" y="246.30" font-size="8.7" text-anchor="end" fill="#1e1e1e" font-weight="normal" >120</text>
<line x1="328.9" y1="397.4" x2="328.9" y2="400.5" stroke="#222" stroke-width="1.1"/>
<line x1="363.2" y1="397.4" x2="363.2" y2="400.5" stroke="#222" stroke-width="1.1"/>
<line x1="423.1" y1="397.4" x2="423.1" y2="400.5" stroke="#222" stroke-width="1.1"/>
<line x1="457.3" y1="397.4" x2="457.3" y2="400.5" stroke="#222" stroke-width="1.1"/>
<text transform="translate(277.4,318.6) rotate(-90) scale(0.79,1)" font-size="10" text-anchor="middle" fill="#1e1e1e">Peak height (nM)</text>
<line x1="328.9" y1="291.7" x2="328.9" y2="330.5" stroke="#222" stroke-width="1.1"/>
<line x1="325.4" y1="330.5" x2="332.4" y2="330.5" stroke="#222" stroke-width="1.1"/>
<line x1="363.3" y1="275.3" x2="363.3" y2="328.0" stroke="#222" stroke-width="1.1"/>
<line x1="359.8" y1="275.3" x2="366.8" y2="275.3" stroke="#222" stroke-width="1.1"/>
<line x1="359.8" y1="328.0" x2="366.8" y2="328.0" stroke="#222" stroke-width="1.1"/>
<line x1="423.3" y1="362.4" x2="423.3" y2="374" stroke="#222" stroke-width="1.1"/>
<line x1="419.8" y1="362.4" x2="426.8" y2="362.4" stroke="#222" stroke-width="1.1"/>
<line x1="457.5" y1="382.7" x2="457.5" y2="397.3" stroke="#222" stroke-width="1.1"/>
<line x1="453.0" y1="382.7" x2="462.0" y2="382.7" stroke="#222" stroke-width="1.1"/>
<circle cx="328.9" cy="291.7" r="3.2" fill="#c4001f"/>
<circle cx="323.5" cy="308.5" r="3.2" fill="#c4001f"/>
<circle cx="334.1" cy="305.9" r="3.2" fill="#c4001f"/>
<circle cx="328.9" cy="338.3" r="3.2" fill="#c4001f"/>
<circle cx="357.7" cy="275.6" r="2.75" fill="none" stroke="#b3001f" stroke-width="1.35"/>
<circle cx="368.4" cy="271.5" r="2.75" fill="none" stroke="#b3001f" stroke-width="1.35"/>
<circle cx="357.4" cy="314.0" r="2.75" fill="none" stroke="#b3001f" stroke-width="1.35"/>
<circle cx="368.3" cy="314.0" r="2.75" fill="none" stroke="#b3001f" stroke-width="1.35"/>
<circle cx="363.1" cy="330.3" r="2.75" fill="none" stroke="#b3001f" stroke-width="1.35"/>
<circle cx="423.3" cy="359.2" r="3.4" fill="#4f1f63"/>
<circle cx="417.8" cy="368.6" r="3.4" fill="#4f1f63"/>
<circle cx="429" cy="368.6" r="3.4" fill="#4f1f63"/>
<circle cx="423.3" cy="374.1" r="3.4" fill="#4f1f63"/>
<circle cx="448.9" cy="383.0" r="2.75" fill="none" stroke="#4f1f63" stroke-width="1.35"/>
<circle cx="457.5" cy="386.7" r="2.75" fill="none" stroke="#4f1f63" stroke-width="1.35"/>
<circle cx="465.1" cy="385.40000000000003" r="2.75" fill="none" stroke="#4f1f63" stroke-width="1.35"/>
<circle cx="451.8" cy="398.0" r="2.75" fill="none" stroke="#4f1f63" stroke-width="1.35"/>
<circle cx="462.2" cy="398.0" r="2.75" fill="none" stroke="#4f1f63" stroke-width="1.35"/>
<path d="M329.5,260.5 L329.5,253.8 L363.8,253.8 L363.8,260.5" fill="none" stroke="#222" stroke-width="1.2"/>
<text x="346.65" y="248.00" font-size="8.7" text-anchor="middle" fill="#1e1e1e" font-weight="normal" >ns</text>
<path d="M423.0,344.6 L423.0,338.9 L458.3,338.9 L458.3,344.6" fill="none" stroke="#222" stroke-width="1.2"/>
<text x="440.65" y="337.90" font-size="7.6" text-anchor="middle" fill="#1e1e1e" font-weight="normal" ></text>
<circle cx="438.9" cy="333.4" r="1.3" fill="#222"/><circle cx="442.4" cy="333.4" r="1.3" fill="#222"/>
<text transform="translate(329.20,413.20) scale(0.79,1)" font-size="9.7" text-anchor="middle" fill="#1e1e1e">TF<tspan font-size="7.3" dx="0.8" dy="-3.5" style="stroke-width:0.25px">wt</tspan></text>
<text transform="translate(363.40,413.20) scale(0.79,1)" font-size="9.7" text-anchor="middle" fill="#1e1e1e">TF<tspan font-size="7.3" dx="0.8" dy="-3.5" style="stroke-width:0.25px">low</tspan></text>
<text transform="translate(423.30,413.20) scale(0.79,1)" font-size="9.7" text-anchor="middle" fill="#1e1e1e">TF<tspan font-size="7.3" dx="0.8" dy="-3.5" style="stroke-width:0.25px">wt</tspan></text>
<text transform="translate(457.40,413.20) scale(0.79,1)" font-size="9.7" text-anchor="middle" fill="#1e1e1e">TF<tspan font-size="7.3" dx="0.8" dy="-3.5" style="stroke-width:0.25px">low</tspan></text>
<line x1="321.9" y1="419.2" x2="366.0" y2="419.2" stroke="#222" stroke-width="1.5"/>
<line x1="415.4" y1="419.2" x2="459.2" y2="419.2" stroke="#222" stroke-width="1.5"/>
<text x="344.00" y="431.30" font-size="8.8" text-anchor="middle" fill="#1e1e1e" font-weight="normal" >IgG</text>
<text x="344.00" y="442.30" font-size="8.8" text-anchor="middle" fill="#1e1e1e" font-weight="normal" >+</text>
<text x="344.00" y="453.30" font-size="8.8" text-anchor="middle" fill="#1e1e1e" font-weight="normal" >Veh</text>
<text x="437.10" y="431.30" font-size="8.8" text-anchor="middle" fill="#1e1e1e" font-weight="normal" >Gara</text>
<text x="437.10" y="442.30" font-size="8.8" text-anchor="middle" fill="#1e1e1e" font-weight="normal" >+</text>
<text x="437.10" y="453.30" font-size="8.8" text-anchor="middle" fill="#1e1e1e" font-weight="normal" >Bero</text>
<rect x="0.5" y="0.5" width="519" height="462" fill="none" stroke="#2e2e2e" stroke-width="1"/>
<line x1="1.5" y1="1" x2="1.5" y2="462" stroke="#aaa" stroke-width="1"/>
</svg>
</body></html>
